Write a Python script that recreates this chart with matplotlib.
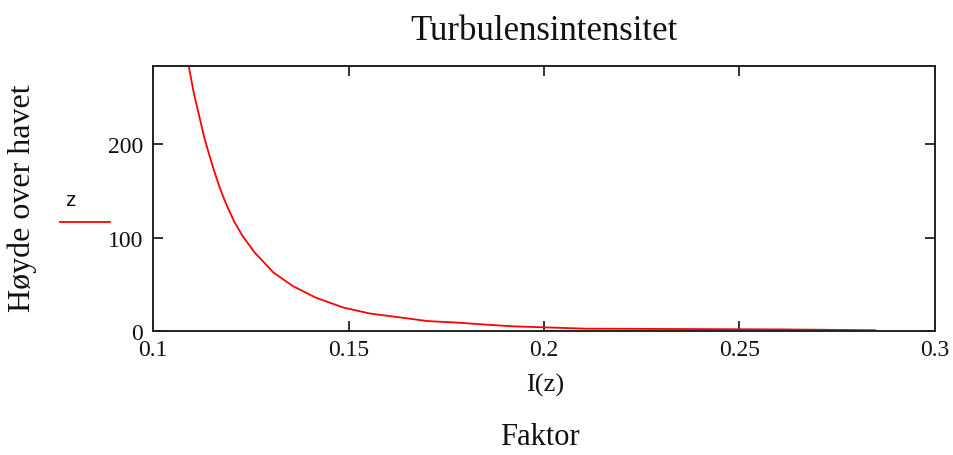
import matplotlib
matplotlib.use("Agg")
import matplotlib.pyplot as plt
from matplotlib.lines import Line2D

# Turbulence intensity I(z) against height above sea z
intensity = [0.2847, 0.2612, 0.2105, 0.1921, 0.1853, 0.1777, 0.1700, 0.1635,
             0.1555, 0.1487, 0.1416, 0.1357, 0.1308, 0.1260, 0.1229,
             0.1208, 0.1193, 0.1182, 0.1169, 0.1155, 0.1142, 0.1130, 0.1116,
             0.1104, 0.1092]
height = [0.8, 1.7, 2.5, 5.0, 6.8, 9.0, 10.7, 14.4,
          18.7, 25.1, 35.8, 48.3, 62.7, 84.1, 101.9,
          117.0, 130.6, 141.3, 155.6, 173.5, 191.4, 209.2, 234.3,
          255.8, 282.6]

x_ticks = [0.1, 0.15, 0.2, 0.25, 0.3]
x_tick_labels = ["0.1", "0.15", "0.2", "0.25", "0.3"]
y_ticks = [0, 100, 200]
y_tick_labels = ["0", "100", "200"]

title = "Turbulensintensitet"
y_label = "Høyde over havet"
x_label = "I(z)"
x_caption = "Faktor"
series_name = "z"

serif = ["Liberation Serif", "DejaVu Serif"]
sans = ["Liberation Sans", "DejaVu Sans"]

W, H = 954, 456
fig = plt.figure(figsize=(W / 100, H / 100), dpi=100)
ax = fig.add_axes([153 / W, 1 - 332 / H, (935 - 153) / W, (332 - 67) / H])

ax.plot(intensity, height, color="#ff0000", lw=1.3)

ax.set_xlim(0.1, 0.3)
ax.set_ylim(0, 284)
ax.set_xticks(x_ticks)
ax.set_xticklabels(x_tick_labels)
ax.set_yticks(y_ticks)
ax.set_yticklabels(y_tick_labels)

for lab in ax.get_xticklabels() + ax.get_yticklabels():
    lab.set_family(serif)
    lab.set_fontsize(17)
    lab.set_color("#111111")

ax.tick_params(axis="both", direction="in", length=7, width=1.2,
               top=True, right=True, color="#111111")
ax.tick_params(axis="x", pad=6)
ax.tick_params(axis="y", pad=7)

for sp in ax.spines.values():
    sp.set_linewidth(1.4)
    sp.set_color("#222222")

fig.text(0.570, 1 - 31 / H, title, family=serif, fontsize=25,
         ha="center", va="center", color="#111111")
fig.text(0.571, 1 - 385 / H, x_label, family=serif, fontsize=19,
         ha="center", va="center", color="#111111")
fig.text(0.566, 1 - 438 / H, x_caption, family=serif, fontsize=22,
         ha="center", va="center", color="#111111")
fig.text(22 / W, 1 - 198 / H, y_label, family=serif, fontsize=23,
         rotation=90, ha="center", va="center", color="#111111")

# series key to the left of the value axis
fig.text(70 / W, 1 - 201 / H, series_name, family=sans, fontsize=15,
         ha="center", va="center", color="#111111")
fig.add_artist(Line2D([60 / W, 110 / W], [1 - 223 / H, 1 - 223 / H],
                      transform=fig.transFigure, color="#ff0000", lw=1.3))

fig.savefig("out.png", dpi=100)
